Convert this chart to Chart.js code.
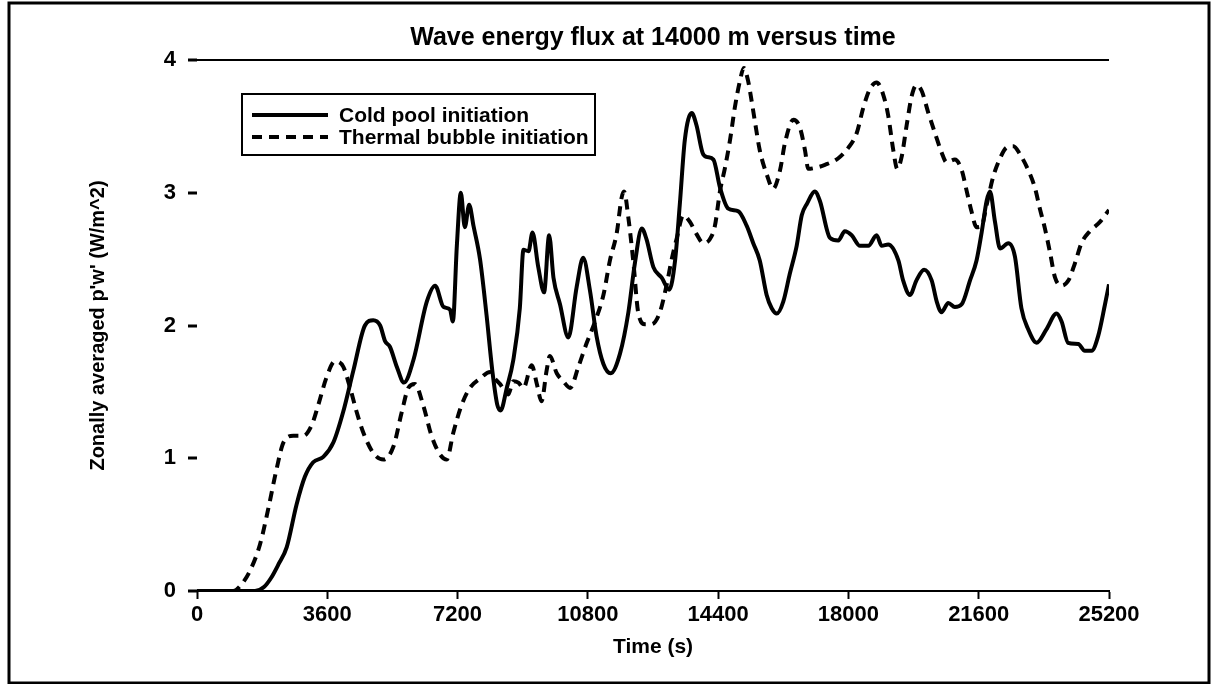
<!DOCTYPE html>
<html>
<head>
<meta charset="utf-8">
<title>Wave energy flux</title>
<script src="https://cdn.jsdelivr.net/npm/chart.js@4.4.1/dist/chart.umd.min.js"></script>
<style>
  body { margin: 0; background: #fff; }
</style>
</head>
<body>
<canvas id="flux-chart" width="1213" height="684"></canvas>
<script>
// time (s) and zonally averaged p'w' (W/m^2) for each run
const coldTime = [0, 1600, 1850, 2050, 2250, 2480, 2750, 2980, 3210, 3490, 3770, 4040, 4320, 4640, 4870, 5060, 5200, 5330, 5520, 5720, 5980, 6350, 6580, 6810, 6990, 7070, 7180, 7290, 7400, 7520, 7640, 7820, 8000, 8160, 8300, 8390, 8560, 8740, 8920, 9020, 9160, 9270, 9430, 9590, 9730, 9850, 10030, 10260, 10490, 10670, 10860, 11040, 11230, 11430, 11690, 11920, 12100, 12290, 12420, 12610, 12840, 13050, 13210, 13340, 13480, 13670, 13800, 13970, 14080, 14270, 14450, 14680, 14960, 15190, 15370, 15550, 15740, 15880, 16020, 16200, 16380, 16570, 16710, 16860, 17070, 17210, 17490, 17720, 17900, 18090, 18320, 18550, 18780, 18920, 19100, 19380, 19510, 19700, 19880, 20090, 20300, 20440, 20570, 20760, 20940, 21130, 21360, 21540, 21680, 21820, 21910, 22050, 22190, 22420, 22600, 22780, 22970, 23200, 23470, 23750, 23890, 24070, 24350, 24530, 24720, 24900, 25090, 25200];
const coldFlux = [0, 0, 0.03, 0.1, 0.2, 0.33, 0.65, 0.86, 0.97, 1.01, 1.12, 1.35, 1.66, 2.0, 2.04, 2.0, 1.88, 1.84, 1.69, 1.57, 1.74, 2.18, 2.3, 2.14, 2.12, 2.03, 2.6, 3.0, 2.74, 2.91, 2.75, 2.5, 2.08, 1.66, 1.4, 1.36, 1.53, 1.74, 2.13, 2.57, 2.56, 2.7, 2.44, 2.25, 2.68, 2.36, 2.16, 1.91, 2.29, 2.51, 2.26, 1.92, 1.71, 1.64, 1.79, 2.1, 2.47, 2.73, 2.65, 2.44, 2.36, 2.27, 2.49, 2.91, 3.4, 3.6, 3.51, 3.3, 3.27, 3.25, 3.04, 2.88, 2.86, 2.75, 2.62, 2.49, 2.23, 2.13, 2.09, 2.18, 2.39, 2.6, 2.83, 2.92, 3.01, 2.94, 2.66, 2.64, 2.71, 2.68, 2.6, 2.6, 2.68, 2.6, 2.61, 2.49, 2.34, 2.23, 2.34, 2.42, 2.34, 2.18, 2.1, 2.17, 2.14, 2.16, 2.34, 2.49, 2.7, 2.94, 3.01, 2.78, 2.58, 2.62, 2.52, 2.13, 1.97, 1.87, 1.97, 2.09, 2.03, 1.87, 1.86, 1.81, 1.81, 1.92, 2.16, 2.31];

const bubbleTime = [0, 1000, 1200, 1460, 1740, 1970, 2200, 2390, 2660, 2940, 3170, 3350, 3580, 3810, 4040, 4230, 4410, 4600, 4870, 5150, 5430, 5660, 5840, 6020, 6250, 6480, 6710, 6900, 7080, 7310, 7540, 7820, 8100, 8230, 8370, 8600, 8740, 8880, 9020, 9250, 9390, 9520, 9660, 9750, 9940, 10120, 10310, 10540, 10770, 11000, 11230, 11410, 11600, 11730, 11800, 11920, 12060, 12190, 12380, 12560, 12790, 12980, 13110, 13250, 13440, 13620, 13800, 13990, 14170, 14310, 14450, 14590, 14730, 14860, 15000, 15110, 15230, 15320, 15420, 15550, 15740, 15920, 16110, 16250, 16480, 16660, 16800, 16890, 17120, 17350, 17720, 18000, 18230, 18410, 18590, 18780, 18960, 19100, 19240, 19350, 19470, 19610, 19750, 19880, 20020, 20210, 20390, 20580, 20710, 20940, 21130, 21270, 21400, 21540, 21680, 21820, 22000, 22190, 22370, 22560, 22740, 22970, 23150, 23290, 23430, 23570, 23710, 23890, 24080, 24260, 24440, 24670, 24950, 25200];
const bubbleFlux = [0, 0, 0.04, 0.15, 0.35, 0.62, 0.92, 1.12, 1.17, 1.17, 1.25, 1.4, 1.61, 1.73, 1.69, 1.53, 1.35, 1.19, 1.04, 0.99, 1.09, 1.35, 1.53, 1.56, 1.4, 1.17, 1.03, 0.99, 1.19, 1.4, 1.53, 1.6, 1.65, 1.6, 1.56, 1.48, 1.58, 1.57, 1.53, 1.7, 1.56, 1.43, 1.66, 1.77, 1.64, 1.58, 1.53, 1.69, 1.87, 2.03, 2.23, 2.49, 2.7, 2.96, 3.01, 2.81, 2.47, 2.1, 2.01, 2.01, 2.1, 2.31, 2.49, 2.65, 2.83, 2.78, 2.69, 2.62, 2.65, 2.75, 3.01, 3.19, 3.4, 3.64, 3.84, 3.94, 3.84, 3.7, 3.53, 3.32, 3.14, 3.03, 3.17, 3.38, 3.55, 3.49, 3.32, 3.18, 3.19, 3.21, 3.26, 3.34, 3.45, 3.64, 3.78, 3.83, 3.74, 3.58, 3.32, 3.18, 3.27, 3.51, 3.73, 3.81, 3.77, 3.6, 3.45, 3.3, 3.23, 3.25, 3.17, 3.01, 2.86, 2.74, 2.75, 2.91, 3.12, 3.26, 3.34, 3.35, 3.29, 3.17, 3.04, 2.88, 2.73, 2.55, 2.36, 2.3, 2.34, 2.47, 2.62, 2.71, 2.78, 2.87];

const seriesLabels = ["Cold pool initiation", "Thermal bubble initiation"];
const timeTicks = [0, 3600, 7200, 10800, 14400, 18000, 21600, 25200];
const fluxTicks = [0, 1, 2, 3, 4];

const FONT = "'Liberation Sans', Arial, Helvetica, sans-serif";
Chart.defaults.color = "#000";
Chart.defaults.font.family = FONT;

const toPoints = (xs, ys) => xs.map((x, i) => ({ x, y: ys[i] }));

// outer frame around the whole figure
const framePlugin = {
  id: "frame",
  afterDraw(chart) {
    const ctx = chart.ctx;
    ctx.save();
    ctx.strokeStyle = "#000";
    ctx.lineWidth = 3;
    ctx.strokeRect(9, 3, 1200, 680);
    ctx.restore();
  },
};

// boxed legend drawn inside the plot, upper left
const legendBoxPlugin = {
  id: "legendBox",
  afterDraw(chart) {
    const ctx = chart.ctx;
    const left = 242, top = 94, width = 353, height = 61;
    ctx.save();
    ctx.fillStyle = "#fff";
    ctx.fillRect(left, top, width, height);
    ctx.strokeStyle = "#000";
    ctx.lineWidth = 2;
    ctx.strokeRect(left, top, width, height);
    chart.data.datasets.forEach((ds, i) => {
      const y = top + 21 + i * 22;
      ctx.beginPath();
      ctx.setLineDash(ds.borderDash || []);
      ctx.lineWidth = ds.borderWidth;
      ctx.strokeStyle = ds.borderColor;
      ctx.moveTo(252, y);
      ctx.lineTo(328, y);
      ctx.stroke();
      ctx.setLineDash([]);
      ctx.fillStyle = "#000";
      ctx.font = "bold 21px " + FONT;
      ctx.textBaseline = "middle";
      ctx.fillText(ds.label, 339, y + 1);
    });
    ctx.restore();
  },
};

const ctx = document.getElementById("flux-chart");

new Chart(ctx, {
  type: "line",
  data: {
    datasets: [
      {
        label: seriesLabels[0],
        data: toPoints(coldTime, coldFlux),
        borderColor: "#000",
        borderWidth: 4,
        pointRadius: 0,
        cubicInterpolationMode: "monotone",
        fill: false,
      },
      {
        label: seriesLabels[1],
        data: toPoints(bubbleTime, bubbleFlux),
        borderColor: "#000",
        borderWidth: 4,
        borderDash: [10, 7],
        pointRadius: 0,
        cubicInterpolationMode: "monotone",
        fill: false,
      },
    ],
  },
  options: {
    responsive: false,
    animation: false,
    layout: { padding: { left: 0, right: 104, top: 0, bottom: 0 } },
    plugins: {
      legend: { display: false },
      tooltip: { enabled: false },
      title: {
        display: true,
        fullSize: false,
        text: "Wave energy flux at 14000 m versus time",
        color: "#000",
        font: { size: 25, weight: "bold" },
        padding: { top: 23, bottom: 7 },
      },
    },
    scales: {
      x: {
        type: "linear",
        min: 0,
        max: 25200,
        afterBuildTicks: (scale) => {
          scale.ticks = timeTicks.map((v) => ({ value: v }));
        },
        afterFit: (scale) => {
          scale.height = 93;
        },
        ticks: {
          font: { size: 22, weight: "bold" },
          padding: 3,
          maxRotation: 0,
          autoSkip: false,
          callback: (v) => String(v),
        },
        border: { display: true, color: "#000", width: 2 },
        grid: {
          drawOnChartArea: false,
          tickLength: 8,
          tickWidth: 2,
          tickColor: "#000",
        },
        title: {
          display: true,
          text: "Time (s)",
          font: { size: 21, weight: "bold" },
          padding: { top: 0, bottom: 24 },
        },
      },
      y: {
        min: 0,
        max: 4,
        afterBuildTicks: (scale) => {
          scale.ticks = fluxTicks.map((v) => ({ value: v }));
        },
        afterFit: (scale) => {
          scale.width = 197;
        },
        ticks: {
          font: { size: 22, weight: "bold" },
          padding: 12,
          callback: (v) => String(v),
        },
        border: { display: false },
        grid: {
          drawOnChartArea: true,
          color: (c) => (c.tick && c.tick.value === 4 ? "#000" : "rgba(0,0,0,0)"),
          lineWidth: 2,
          tickLength: 9,
          tickWidth: 3,
          tickColor: "#000",
        },
        title: {
          display: true,
          text: "Zonally averaged p'w' (W/m^2)",
          font: { size: 20, weight: "bold" },
          padding: { top: 86, bottom: 0 },
        },
      },
    },
  },
  plugins: [framePlugin, legendBoxPlugin],
});
</script>
</body>
</html>
